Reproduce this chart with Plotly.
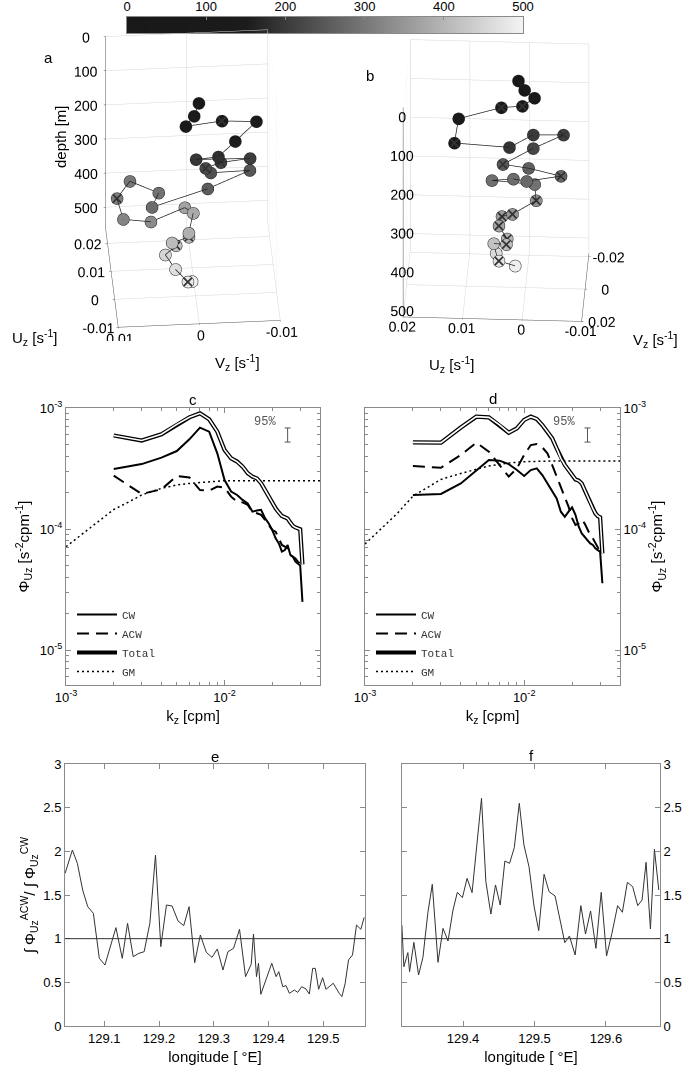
import plotly.graph_objects as go

W, H = 685, 1075
def px(x):
    return x / W
def py(y):
    return 1 - y / H

# ---------------- colour bar / depth colour map ----------------
colorbar_ticks = [0, 100, 200, 300, 400, 500]
gray_cs = [[0.0, 'rgb(24,24,24)'], [0.3, 'rgb(27,27,27)'], [1.0, 'rgb(244,244,244)']]

# ---------------- panel a (3-D shear hodograph) ----------------
a_depth = [60, 75, 90, 105, 120, 140, 180, 195, 205, 215, 225, 235, 245, 255, 280,
           290, 300, 310, 320, 330, 370, 380, 390, 400, 410, 420, 450, 465, 480, 495]
a_U = [0.0072, 0.0045, 0.0028, 0.0060, 0.0071, 0.0028, 0.0024, 0.0036, 0.0044, 0.0046,
       0.0040, 0.0035, 0.0050, 0.0003, -0.0024, 0.0038, 0.0096, 0.0049, -0.0014, -0.0015,
       0.0079, 0.0070, 0.0012, 0.0010, 0.0004, 0.0006, 0.0011, -0.0024, -0.0052, -0.0033]
a_V = [-0.0007, 0.0000, 0.0011, -0.0035, -0.0078, -0.0050, -0.0029, -0.0002, -0.0069, -0.0033,
       -0.0014, -0.0020, -0.0069, -0.0015, 0.0055, 0.0044, 0.0077, 0.0095, 0.0090, 0.0056,
       0.0010, 0.0000, 0.0008, 0.0008, 0.0029, 0.0024, 0.0037, 0.0026, 0.0012, 0.0006]
a_cross = [0, 0, 0, 1, 0, 0, 1, 0, 0, 1, 1, 0, 0, 0, 0,
           0, 0, 1, 0, 0, 0, 0, 0, 1, 0, 1, 0, 0, 1, 0]

# ---------------- panel b ----------------
b_depth = [20, 35, 50, 65, 80, 100, 120, 190, 200, 210, 220, 250, 260, 270,
           275, 280, 285, 290, 340, 350, 360, 370, 400, 410, 420, 460, 475, 490]
b_U = [0.0013, 0.0002, -0.0015, 0.0005, 0.0041, 0.0112, 0.0116, 0.0028, -0.0009, -0.0059,
       -0.0010, 0.0040, -0.0003, -0.0058, -0.0001, 0.0022, 0.0058, -0.0014, -0.0016, 0.0022,
       0.0040, 0.0044, 0.0030, 0.0031, 0.0053, 0.0050, 0.0045, 0.0018]
b_V = [-0.0030, -0.0009, 0.0002, 0.0018, -0.0006, 0.0021, 0.0124, -0.0025, -0.0130, -0.0158,
       -0.0094, -0.0063, -0.0067, -0.0047, -0.0022, -0.0046, -0.0046, -0.0040, -0.0060, 0.0004,
       -0.0005, 0.0030, 0.0037, 0.0048, 0.0020, -0.0016, -0.0005, -0.0013]
b_cross = [0, 0, 0, 1, 1, 0, 1, 0, 0, 1, 0, 1, 0, 1,
           0, 0, 0, 0, 1, 1, 1, 1, 1, 1, 0, 0, 1, 0]

depth_ticks = [0, 100, 200, 300, 400, 500]
a_U_ticks = [-0.01, 0, 0.01, 0.02]
a_V_ticks = [-0.01, 0, 0.01]
b_U_ticks = [-0.01, 0, 0.01, 0.02]
b_V_ticks = [-0.02, 0, 0.02]

# ---------------- panels c / d : rotary shear spectra ----------------
k_spec = [0.002, 0.003, 0.004, 0.005, 0.006, 0.007, 0.008, 0.009, 0.010, 0.011,
          0.012, 0.013, 0.014, 0.015, 0.016, 0.017, 0.018, 0.019, 0.020, 0.021,
          0.022, 0.023, 0.024, 0.025, 0.026, 0.027, 0.028, 0.029, 0.030, 0.031]

c_cw = [3.13e-4, 3.44e-4, 3.89e-4, 4.41e-4, 5.51e-4, 6.88e-4, 6.37e-4, 4.22e-4, 2.54e-4, 2.04e-4,
        1.91e-4, 1.74e-4, 1.63e-4, 1.39e-4, 1.42e-4, 1.44e-4, 1.23e-4, 1.11e-4, 9.81e-5, 8.37e-5,
        7.61e-5, 6.50e-5, 6.70e-5, 7.38e-5, 6.10e-5, 5.90e-5, 5.37e-5, 5.20e-5, 5.00e-5, 2.50e-5]
c_acw = [2.76e-4, 1.95e-4, 2.13e-4, 2.74e-4, 2.67e-4, 2.10e-4, 2.08e-4, 2.24e-4, 2.20e-4, 1.85e-4,
         1.68e-4, 1.66e-4, 1.58e-4, 1.39e-4, 1.35e-4, 1.31e-4, 1.19e-4, 1.08e-4, 9.81e-5, 9.50e-5,
         8.37e-5, 7.38e-5, 7.14e-5, 6.90e-5, 6.10e-5, 5.90e-5, 5.72e-5, 5.37e-5, 5.20e-5]
c_tot = [5.93e-4, 5.39e-4, 6.07e-4, 7.33e-4, 8.37e-4, 9.04e-4, 8.06e-4, 6.38e-4, 4.50e-4, 3.84e-4,
         3.61e-4, 3.28e-4, 2.89e-4, 2.71e-4, 2.62e-4, 2.39e-4, 2.10e-4, 1.85e-4, 1.63e-4, 1.48e-4,
         1.37e-4, 1.28e-4, 1.25e-4, 1.22e-4, 1.13e-4, 1.06e-4, 1.03e-4, 1.01e-4, 9.94e-5, 5.10e-5]

d_cw = [1.91e-4, 1.95e-4, 2.38e-4, 3.07e-4, 3.72e-4, 3.67e-4, 3.44e-4, 3.07e-4, 2.74e-4, 3.07e-4,
        3.17e-4, 2.79e-4, 2.38e-4, 2.10e-4, 1.79e-4, 1.39e-4, 1.26e-4, 1.39e-4, 1.51e-4, 1.31e-4,
        1.05e-4, 9.21e-5, 8.64e-5, 8.11e-5, 7.61e-5, 7.38e-5, 6.92e-5, 6.70e-5, 6.50e-5, 3.56e-5]
d_acw = [3.32e-4, 3.21e-4, 4.09e-4, 5.17e-4, 4.36e-4, 3.38e-4, 2.71e-4, 3.17e-4, 4.09e-4, 4.94e-4,
         5.04e-4, 4.73e-4, 4.22e-4, 3.38e-4, 2.71e-4, 2.24e-4, 1.85e-4, 1.53e-4, 1.23e-4, 1.08e-4,
         1.11e-4, 1.19e-4, 1.11e-4, 9.81e-5, 8.92e-5, 8.37e-5, 7.61e-5, 6.92e-5, 6.50e-5]
d_tot = [5.20e-4, 5.17e-4, 6.90e-4, 8.48e-4, 8.37e-4, 7.24e-4, 6.25e-4, 6.79e-4, 7.96e-4, 8.48e-4,
         8.11e-4, 7.24e-4, 6.37e-4, 5.61e-4, 4.64e-4, 3.84e-4, 3.38e-4, 3.07e-4, 2.79e-4, 2.57e-4,
         2.51e-4, 2.38e-4, 2.10e-4, 1.85e-4, 1.63e-4, 1.48e-4, 1.35e-4, 1.28e-4, 1.25e-4, 6.29e-5]

k_gm = [0.001, 0.0013, 0.0016, 0.002, 0.0025, 0.003, 0.004, 0.005, 0.006, 0.008,
        0.010, 0.015, 0.020, 0.030, 0.040]
c_gm = [7.14e-5, 9.33e-5, 1.15e-4, 1.45e-4, 1.68e-4, 1.91e-4, 2.17e-4, 2.31e-4, 2.38e-4, 2.46e-4,
        2.51e-4, 2.51e-4, 2.51e-4, 2.51e-4, 2.51e-4]
d_gm = [7.52e-5, 1.05e-4, 1.35e-4, 1.87e-4, 2.24e-4, 2.57e-4, 2.88e-4, 3.11e-4, 3.32e-4, 3.51e-4,
        3.60e-4, 3.65e-4, 3.65e-4, 3.65e-4, 3.65e-4]

ci_k = [0.025]
ci_lo = [5.23e-4]
ci_hi = [6.84e-4]
spec_xticks = [0.001, 0.01]
spec_xticktext = ['10<sup>-3</sup>', '10<sup>-2</sup>']
spec_yticks = [1e-5, 1e-4, 1e-3]
spec_yticktext = ['10<sup>-5</sup>', '10<sup>-4</sup>', '10<sup>-3</sup>']
spec_minor = [0.002, 0.003, 0.004, 0.005, 0.006, 0.007, 0.008, 0.009, 0.02, 0.03, 0.04]
spec_yminor = [2e-6, 3e-6, 4e-6, 5e-6, 6e-6, 7e-6, 8e-6, 9e-6, 2e-5, 3e-5, 4e-5, 5e-5, 6e-5, 7e-5, 8e-5, 9e-5,
               2e-4, 3e-4, 4e-4, 5e-4, 6e-4, 7e-4, 8e-4, 9e-4]

# ---------------- panels e / f : ACW/CW ratio ----------------
e_lon = [129.0284, 129.0417, 129.0508, 129.0605, 129.0697, 129.0800, 129.0909, 129.1012, 129.1212, 129.1328,
         129.1425, 129.1528, 129.1631, 129.1728, 129.1832, 129.1935, 129.2032, 129.2135, 129.2238, 129.2347,
         129.2451, 129.2548, 129.2651, 129.2754, 129.2863, 129.2967, 129.3064, 129.3167, 129.3258, 129.3361,
         129.3470, 129.3580, 129.3683, 129.3725, 129.3780, 129.3816, 129.3859, 129.3956, 129.4059, 129.4138,
         129.4187, 129.4260, 129.4320, 129.4381, 129.4472, 129.4533, 129.4606, 129.4684, 129.4745, 129.4806,
         129.4854, 129.4915, 129.4988, 129.5049, 129.5182, 129.5291, 129.5340, 129.5400, 129.5461, 129.5534,
         129.5607, 129.5686, 129.5747]
e_ratio = [1.748, 2.015, 1.863, 1.557, 1.366, 1.290, 0.775, 0.698, 1.126, 0.775,
           1.176, 0.794, 0.832, 0.851, 1.176, 1.958, 0.908, 1.385, 1.374, 1.202,
           1.149, 1.366, 0.725, 1.042, 0.844, 0.786, 0.882, 0.641, 0.851, 0.889,
           1.107, 0.565, 0.706, 1.053, 0.565, 0.718, 0.363, 0.527, 0.718, 0.565,
           0.622, 0.450, 0.462, 0.374, 0.412, 0.385, 0.450, 0.424, 0.366, 0.660,
           0.660, 0.420, 0.553, 0.420, 0.489, 0.374, 0.336, 0.489, 0.756, 0.813,
           1.156, 1.107, 1.244]
f_lon = [129.3143, 129.3171, 129.3227, 129.3251, 129.3311, 129.3377, 129.3438, 129.3508, 129.3569, 129.3649,
         129.3719, 129.3789, 129.3859, 129.3920, 129.3991, 129.4056, 129.4126, 129.4187, 129.4258, 129.4319,
         129.4389, 129.4454, 129.4520, 129.4585, 129.4651, 129.4717, 129.4787, 129.4852, 129.4923, 129.4993,
         129.5059, 129.5134, 129.5204, 129.5288, 129.5358, 129.5424, 129.5489, 129.5569, 129.5649, 129.5714,
         129.5785, 129.5860, 129.5934, 129.6009, 129.6084, 129.6164, 129.6230, 129.6300, 129.6375, 129.6445,
         129.6506, 129.6562, 129.6623, 129.6679, 129.6740]
f_ratio = [1.156, 0.679, 0.840, 0.622, 0.958, 0.584, 0.786, 1.302, 1.622, 0.729,
           1.118, 0.973, 1.328, 1.531, 1.469, 1.691, 1.527, 2.015, 2.607, 1.653,
           1.282, 1.615, 1.385, 1.889, 1.863, 2.042, 2.550, 2.073, 1.824, 1.374,
           1.092, 1.737, 1.538, 1.489, 1.214, 0.954, 1.031, 0.813, 1.378, 1.053,
           1.317, 0.889, 1.531, 0.802, 1.061, 1.378, 1.302, 1.645, 1.595, 1.378,
           1.443, 1.874, 1.111, 2.023, 1.557]
e_xticks = [129.1, 129.2, 129.3, 129.4, 129.5]
f_xticks = [129.4, 129.5, 129.6]
ratio_yticks = [0, 0.5, 1, 1.5, 2, 2.5, 3]
ratio_ref = 1.0

FONT = 'Liberation Sans'
MONO = 'Liberation Mono'
AXC = '#8a8a8a'

fig = go.Figure()

# ---------- colour bar strip ----------
fig.add_trace(go.Heatmap(z=[colorbar_ticks], x=colorbar_ticks, y=[0], zsmooth='best',
                         colorscale=gray_cs, zmin=0, zmax=500, showscale=False,
                         xaxis='x5', yaxis='y5', hoverinfo='skip'))

# ---------- 3-D panels ----------
def fmt(v):
    return '0' if v == 0 else ('%g' % v)

for depth, cross, scene, xs, ys in [
        (a_depth, a_cross, 'scene', a_V, a_U),
        (b_depth, b_cross, 'scene2', b_U, b_V)]:
    fig.add_trace(go.Scatter3d(
        x=xs, y=ys, z=depth, mode='lines+markers', scene=scene, showlegend=False,
        line=dict(color='#222', width=1.5),
        marker=dict(size=7, color=depth, colorscale=gray_cs, cmin=0, cmax=500,
                    line=dict(color='#222', width=1), opacity=1),
        hoverinfo='skip'))
    fig.add_trace(go.Scatter3d(
        x=[v for v, c in zip(xs, cross) if c], y=[v for v, c in zip(ys, cross) if c],
        z=[v for v, c in zip(depth, cross) if c], mode='markers', scene=scene, showlegend=False,
        marker=dict(symbol='x', size=2, color='#333'), hoverinfo='skip'))

def ax3d(rng, ticks):
    return dict(title=dict(text=''), range=rng, tickvals=ticks, ticktext=[fmt(t) for t in ticks],
                showbackground=False, showgrid=True, gridcolor='#d6d6d6', gridwidth=1,
                showline=True, linecolor='#555', linewidth=1, zeroline=False, showspikes=False,
                ticks='outside', ticklen=2, tickcolor='#555', tickangle=0,
                tickfont=dict(family=FONT, size=13, color='black'))

fig.update_layout(
    scene=dict(domain=dict(x=[px(53), px(333)], y=[py(341), py(16)]),
               xaxis=ax3d([0.01, -0.01], a_V_ticks),
               yaxis=ax3d([-0.01, 0.025], a_U_ticks),
               zaxis=ax3d([565, 0], depth_ticks),
               aspectmode='manual', aspectratio=dict(x=1, y=1.05, z=1.45),
               camera=dict(eye=dict(x=-0.12, y=-1.63, z=1.15), up=dict(x=0, y=0, z=1),
                           center=dict(x=0, y=0, z=0), projection=dict(type='orthographic'))),
    scene2=dict(domain=dict(x=[px(341), px(651)], y=[py(343), py(18)]),
                xaxis=ax3d([-0.01, 0.02], b_U_ticks),
                yaxis=ax3d([-0.022, 0.02], b_V_ticks),
                zaxis=ax3d([540, 0], depth_ticks),
                aspectmode='manual', aspectratio=dict(x=1.1, y=0.87, z=1.47),
                camera=dict(eye=dict(x=-0.08, y=1.54, z=0.845), up=dict(x=0, y=0, z=1),
                            center=dict(x=0, y=0, z=0), projection=dict(type='orthographic'))),
)

# ---------- spectra ----------
def add_spec(k, cw, acw, tot, gm, xa, ya, leg):
    fig.add_trace(go.Scatter(x=k_gm, y=gm, mode='lines', name='GM', legend=leg, legendrank=4,
                             line=dict(color='black', width=1.5, dash='2px,3px'), xaxis=xa, yaxis=ya))
    fig.add_trace(go.Scatter(x=k[:len(acw)], y=acw, mode='lines', name='ACW', legend=leg, legendrank=2,
                             line=dict(color='black', width=2, dash='12px,7px'), xaxis=xa, yaxis=ya))
    fig.add_trace(go.Scatter(x=k, y=cw, mode='lines', name='CW', legend=leg, legendrank=1,
                             line=dict(color='black', width=2), xaxis=xa, yaxis=ya))
    fig.add_trace(go.Scatter(x=k, y=tot, mode='lines', name='Total', legend=leg, legendrank=3,
                             line=dict(color='black', width=4.2), xaxis=xa, yaxis=ya))
    fig.add_trace(go.Scatter(x=k, y=tot, mode='lines', showlegend=False, hoverinfo='skip',
                             line=dict(color='white', width=1.6), xaxis=xa, yaxis=ya))
    ctr = [(lo * hi) ** 0.5 for lo, hi in zip(ci_lo, ci_hi)]
    fig.add_trace(go.Scatter(x=ci_k, y=ctr, mode='markers', showlegend=False, hoverinfo='skip',
                             marker=dict(size=1, color='rgba(0,0,0,0)'),
                             error_y=dict(type='data', symmetric=False,
                                          array=[h - c for h, c in zip(ci_hi, ctr)],
                                          arrayminus=[c - l for l, c in zip(ci_lo, ctr)],
                                          width=3, thickness=1, color='#555'),
                             xaxis=xa, yaxis=ya))

add_spec(k_spec, c_cw, c_acw, c_tot, c_gm, 'x', 'y', 'legend')
add_spec(k_spec, d_cw, d_acw, d_tot, d_gm, 'x2', 'y2', 'legend2')

# ---------- ratio panels ----------
fig.add_trace(go.Scatter(x=e_lon, y=e_ratio, mode='lines', showlegend=False,
                         line=dict(color='#333', width=1), xaxis='x3', yaxis='y3'))
fig.add_trace(go.Scatter(x=f_lon, y=f_ratio, mode='lines', showlegend=False,
                         line=dict(color='#333', width=1), xaxis='x4', yaxis='y4'))

tickfont = dict(family=FONT, size=13, color='black')
titlefont = dict(family=FONT, size=15, color='black')
common = dict(showline=True, linecolor=AXC, linewidth=1, mirror='ticks', ticks='inside',
              tickcolor=AXC, ticklen=5, showgrid=False, zeroline=False, tickfont=tickfont)

def spec_x(domain, anchor):
    return dict(domain=domain, anchor=anchor, type='log', range=[-3, -1.39794],
                tickvals=spec_xticks, ticktext=spec_xticktext,
                minor=dict(tickvals=spec_minor, ticks='inside', ticklen=3, tickcolor=AXC),
                title=dict(text='k<sub>z</sub> [cpm]', font=titlefont, standoff=6), **common)

def spec_y(domain, anchor, side):
    return dict(domain=domain, anchor=anchor, type='log', range=[-5.289, -3], side=side,
                tickvals=spec_yticks, ticktext=spec_yticktext,
                minor=dict(tickvals=spec_yminor, ticks='inside', ticklen=3, tickcolor=AXC),
                title=dict(text='Φ<sub>Uz</sub> [s<sup>-2</sup>cpm<sup>-1</sup>]', font=titlefont, standoff=6),
                **common)

ydom_cd = [py(685), py(408)]
ydom_ef = [py(1026), py(764)]

fig.update_layout(
    xaxis=spec_x([px(66), px(320)], 'y'),
    yaxis=spec_y(ydom_cd, 'x', 'left'),
    xaxis2=spec_x([px(365), px(620)], 'y2'),
    yaxis2=spec_y(ydom_cd, 'x2', 'right'),
    xaxis3=dict(domain=[px(65), px(365)], anchor='y3', range=[129.0282, 129.5762], tickvals=e_xticks,
                title=dict(text='longitude [ °E]', font=titlefont, standoff=6), **common),
    yaxis3=dict(domain=ydom_ef, anchor='x3', range=[0, 3], tickvals=ratio_yticks,
                title=dict(text='∫ Φ<sub>Uz</sub><sup>ACW</sup>/ ∫ Φ<sub>Uz</sub><sup>CW</sup>',
                           font=titlefont, standoff=4), **common),
    xaxis4=dict(domain=[px(402), px(660)], anchor='y4', range=[129.3145, 129.6757], tickvals=f_xticks,
                title=dict(text='longitude [ °E]', font=titlefont, standoff=6), **common),
    yaxis4=dict(domain=ydom_ef, anchor='x4', range=[0, 3], tickvals=ratio_yticks, side='right', **common),
    xaxis5=dict(domain=[px(127), px(523)], anchor='y5', range=[0, 500], side='top',
                tickvals=colorbar_ticks, showline=True, linecolor=AXC, mirror=True, ticks='inside',
                ticklen=3, tickcolor=AXC, tickfont=tickfont, showgrid=False, zeroline=False),
    yaxis5=dict(domain=[py(33), py(17)], anchor='x5', range=[-0.5, 0.5], showticklabels=False,
                showline=True, linecolor=AXC, mirror=True, ticks='', showgrid=False, zeroline=False),
)

legend_style = dict(font=dict(family=MONO, size=11, color='#333'), bgcolor='rgba(0,0,0,0)',
                    borderwidth=0, itemwidth=40, tracegroupgap=0, xanchor='left', yanchor='top',
                    traceorder='normal')
fig.update_layout(
    legend=dict(x=px(72), y=py(600), **legend_style),
    legend2=dict(x=px(371), y=py(600), **legend_style),
)

ann = []
def label(x, y, text, size=15, angle=0, family=FONT, color='black', xanchor='center'):
    ann.append(dict(x=px(x), y=py(y), xref='paper', yref='paper', text=text, showarrow=False,
                    font=dict(family=family, size=size, color=color), textangle=angle,
                    xanchor=xanchor, yanchor='middle'))

label(48, 57, 'a')
label(370, 76, 'b')
label(60, 137, 'depth [m]', angle=-90)
label(34, 337, 'U<sub>z</sub> [s<sup>-1</sup>]')
label(237, 362, 'V<sub>z</sub> [s<sup>-1</sup>]')
label(451, 364, 'U<sub>z</sub> [s<sup>-1</sup>]')
label(655, 340, 'V<sub>z</sub> [s<sup>-1</sup>]')
label(193, 399, 'c')
label(493, 398, 'd')
label(215, 756, 'e')
label(531, 755, 'f')
for xa, ya in [('x', 'y'), ('x2', 'y2')]:
    ann.append(dict(x=-1.747, y=-3.116, xref=xa, yref=ya, text='95%', showarrow=False,
                    font=dict(family=MONO, size=12, color='#555')))
fig.update_layout(annotations=ann)

fig.update_layout(
    width=W, height=H, margin=dict(l=0, r=0, t=0, b=0, autoexpand=False),
    paper_bgcolor='white', plot_bgcolor='white',
    font=dict(family=FONT, size=13, color='black'),
    shapes=[dict(type='line', xref='x3 domain', x0=0, x1=1, yref='y3', y0=ratio_ref, y1=ratio_ref,
                 line=dict(color='#333', width=1)),
            dict(type='line', xref='x4 domain', x0=0, x1=1, yref='y4', y0=ratio_ref, y1=ratio_ref,
                 line=dict(color='#333', width=1))],
)

fig.write_html('out.html', config={'displayModeBar': False},
               post_script="document.body.style.margin='0px';document.body.style.overflow='hidden';")
